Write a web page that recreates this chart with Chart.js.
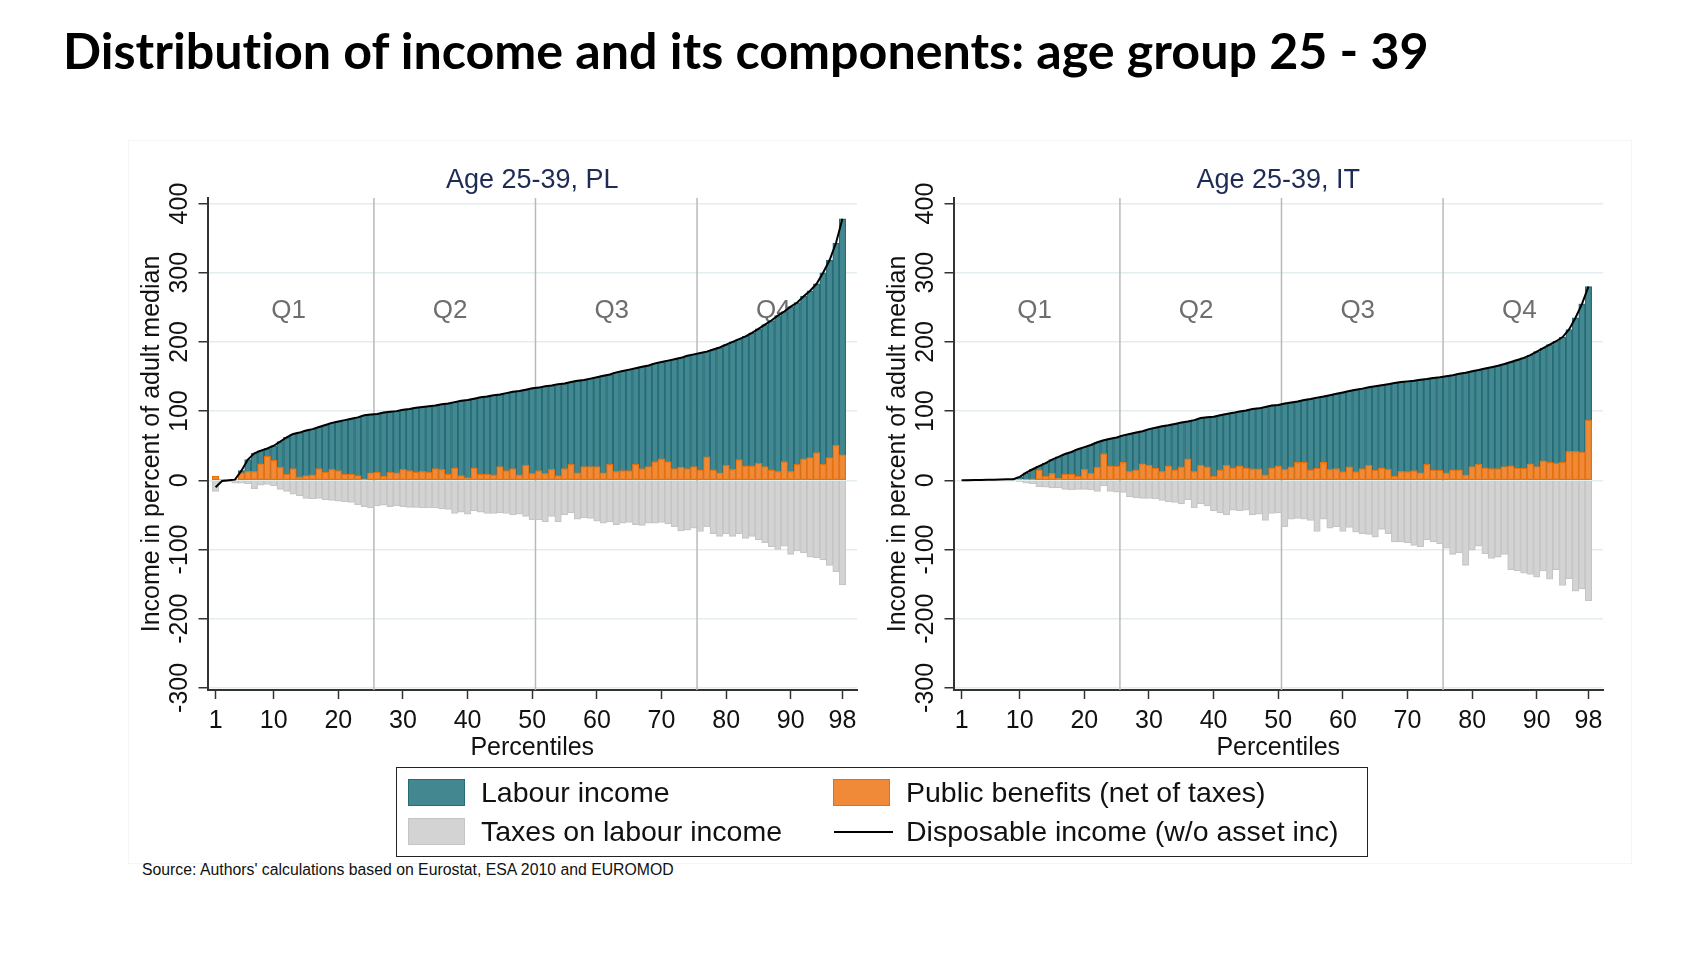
<!DOCTYPE html>
<html>
<head>
<meta charset="utf-8">
<script src="https://cdn.jsdelivr.net/npm/chart.js@4.4.1/dist/chart.umd.min.js"></script>
<style>
  body { margin:0; background:#fff; width:1707px; height:960px; position:relative; overflow:hidden;
         font-family:"Liberation Sans", Arial, sans-serif; color:#111; }
  #title { position:absolute; left:63px; top:30px; font-family:Lato, sans-serif; font-weight:700;
           font-size:40px; line-height:1.2; white-space:nowrap; color:#000;
           font-variant-ligatures:none; font-feature-settings:"liga" 0, "clig" 0; }
  #frame { position:absolute; left:128px; top:140px; width:1502px; height:722px; border:1px solid #f4f6f6; }
  canvas { position:absolute; top:150px; }
  #pl { left:120px; }
  #it { left:866px; }
  #legend { position:absolute; left:396px; top:767px; width:970px; height:88px; border:1.5px solid #222; }
  .sw { position:absolute; width:57px; height:27px; box-sizing:border-box; border:1.5px solid; }
  .lt { position:absolute; font-size:28.5px; line-height:1.117; white-space:nowrap; }
  #source { position:absolute; left:142px; top:861px; font-size:15.8px; line-height:1.117; white-space:nowrap; }
</style>
</head>
<body>
<div id="title">Distribution of income and its components: age group 25 - 39</div>
<div id="frame"></div>
<canvas id="pl" width="760" height="620"></canvas>
<canvas id="it" width="760" height="620"></canvas>
<div id="legend"></div>
<div id="source">Source: Authors' calculations based on Eurostat, ESA 2010 and EUROMOD</div>
<script>
// percentiles 1..98
const pct = Array.from({length: 98}, (_, i) => i + 1);
const xTickVals = [1, 10, 20, 30, 40, 50, 60, 70, 80, 90, 98];
const yTickVals = [-300, -200, -100, 0, 100, 200, 300, 400];
const quartileLines = [25.5, 50.5, 75.5];
const quartileNames = ['Q1', 'Q2', 'Q3', 'Q4'];
const quartileAt = [12.3, 37.3, 62.3, 87.3];
const quartileY = 248;

// Poland
const plDisposable = [
  -10, -1, 0, 1, 14, 30, 39, 43, 46, 50,
  56, 62, 67, 69, 72, 74, 77, 80, 83, 85,
  87, 89, 91, 94, 95, 96, 98, 99, 100, 102,
  103, 105, 106, 107, 108, 110, 111, 113, 115, 116,
  118, 120, 121, 123, 124, 126, 128, 129, 131, 133,
  134, 136, 137, 139, 140, 142, 144, 145, 147, 149,
  151, 153, 156, 158, 160, 162, 164, 166, 169, 171,
  173, 175, 177, 180, 182, 184, 186, 189, 192, 196,
  200, 204, 208, 213, 219, 225, 231, 238, 244, 251,
  257, 266, 274, 284, 300, 318, 343, 378
];
const plBenefits = [
  6, 1, 0, 0, 11, 13, 13, 24, 35, 29,
  19, 9, 17, 5, 7, 8, 17, 12, 16, 14,
  9, 9, 7, 2, 11, 12, 6, 12, 11, 16,
  14, 12, 13, 12, 17, 16, 9, 18, 7, 4,
  18, 9, 9, 8, 20, 14, 17, 8, 22, 10,
  14, 10, 16, 7, 17, 23, 11, 20, 20, 20,
  11, 23, 13, 14, 14, 23, 17, 20, 27, 31,
  27, 17, 19, 17, 20, 15, 34, 15, 11, 22,
  16, 30, 21, 21, 25, 20, 15, 13, 27, 13,
  23, 31, 33, 40, 23, 33, 51, 37
];
const plTaxes = [
  -16, -2, -2, -4, -4, -5, -12, -7, -6, -8,
  -13, -16, -20, -22, -26, -27, -26, -28, -29, -30,
  -31, -32, -35, -38, -40, -37, -36, -38, -37, -38,
  -39, -39, -40, -40, -40, -41, -42, -48, -46, -49,
  -44, -46, -48, -48, -47, -48, -50, -49, -52, -57,
  -57, -60, -52, -60, -50, -47, -56, -54, -55, -59,
  -62, -60, -64, -62, -61, -64, -65, -62, -62, -61,
  -63, -67, -73, -72, -69, -74, -67, -77, -81, -77,
  -81, -77, -84, -81, -86, -90, -96, -100, -95, -107,
  -102, -105, -111, -112, -115, -123, -132, -151
];

// Italy
const itDisposable = [
  0, 0.2, 0.4, 0.6, 0.8, 1, 1.2, 1.4, 1.6, 5,
  11, 16, 20.5, 25, 30, 34, 38, 41, 45, 48,
  51, 55, 58, 60, 62, 65, 67, 69, 71, 74,
  76, 78, 79.5, 81.5, 83.5, 85, 87, 90, 91, 92,
  94, 96, 97.5, 99.5, 101, 103, 104, 106, 108, 109,
  111, 112.5, 114, 116, 117.5, 119.5, 121, 123, 125, 127,
  129, 131, 132.5, 134.5, 136, 137.5, 139, 140.5, 142, 143,
  144, 145.5, 146.5, 148, 149, 150.5, 152, 154, 155.5, 157.5,
  159.5, 161.5, 163.5, 165.5, 168, 171, 174, 177, 181, 186,
  191, 196, 201, 207, 218, 235, 255, 280
];
const itBenefits = [
  0, 0, 0, 0, 0, 0, 0, 0, 0, 0,
  1, 2, 15, 6, 10, 3, 9, 9, 6, 16,
  10, 19, 38.5, 21, 20.5, 26, 13, 15, 24, 22,
  17.5, 13, 21, 15, 19.5, 31, 13, 22, 19.5, 6,
  15, 22, 18, 21, 18, 16.5, 16.5, 8, 18, 21,
  16, 19.5, 26, 26, 15, 17.5, 26, 16, 17, 12.7,
  19.5, 12.7, 17, 22, 14.6, 18, 16, 6, 13, 12.7,
  14, 11, 23, 14.6, 14.6, 11, 15, 15, 8, 20,
  23, 18, 17, 17, 20, 21, 17.5, 17.5, 24, 20,
  28, 26, 25, 26, 42, 42, 41, 87
];
const itTaxes = [
  0, 0, 0, 0, 0, 0, 0, 0, -1, -2,
  -4, -5, -9, -10, -11, -11, -13, -14, -13, -13,
  -14, -16, -8, -16, -17, -17.5, -24, -25, -26, -26,
  -27, -29, -31, -32, -34, -28, -40, -34, -37, -44,
  -47, -50, -43, -44, -43, -50, -49, -58, -48, -47,
  -67, -56, -55, -56, -58, -74, -56, -69, -67, -74,
  -68, -75, -77, -78, -82, -71, -77, -89, -89, -90,
  -94, -96, -86, -89, -92, -98, -107, -105, -123, -101,
  -95, -106, -113, -111, -107, -129, -131, -134, -136, -140,
  -131, -143, -129, -152, -142, -160, -157, -174
];

const FONT = '"Liberation Sans", Arial, sans-serif';
const colLabour = {fill: '#438890', edge: '#246d77'};
const colBenefit = {fill: '#f08a38', edge: '#e4710e'};
const colTax = {fill: '#d3d3d3', edge: '#c5c5c5'};

// text around each panel, and the quartile lines/labels behind the bars
const decor = {
  id: 'decor',
  beforeDatasetsDraw(chart) {
    const {ctx, chartArea: a, scales: {x, y}} = chart;
    ctx.save();
    ctx.strokeStyle = '#b9b9b9';
    ctx.lineWidth = 1.5;
    quartileLines.forEach(v => {
      const px = x.getPixelForValue(v);
      ctx.beginPath();
      ctx.moveTo(px, a.top);
      ctx.lineTo(px, a.bottom);
      ctx.stroke();
    });
    ctx.fillStyle = '#6e6e6e';
    ctx.font = '26px ' + FONT;
    ctx.textAlign = 'center';
    quartileNames.forEach((q, i) => {
      ctx.fillText(q, x.getPixelForValue(quartileAt[i]), y.getPixelForValue(quartileY) + 9.3);
    });
    ctx.restore();
  },
  afterDraw(chart, args, opts) {
    const {ctx, chartArea: a, scales: {y}} = chart;
    ctx.save();
    ctx.textAlign = 'center';
    ctx.fillStyle = '#1e2c55';
    ctx.font = '27px ' + FONT;
    ctx.fillText(opts.title, (a.left + a.right) / 2, a.top - 10);

    ctx.fillStyle = '#111';
    ctx.font = '25px ' + FONT;
    yTickVals.forEach(v => {
      ctx.save();
      ctx.translate(a.left - 21, y.getPixelForValue(v));
      ctx.rotate(-Math.PI / 2);
      ctx.fillText(String(v), 0, 0);
      ctx.restore();
    });
    ctx.save();
    ctx.translate(a.left - 48.5, (a.top + a.bottom) / 2);
    ctx.rotate(-Math.PI / 2);
    ctx.fillText('Income in percent of adult median', 0, 0);
    ctx.restore();

    ctx.fillText('Percentiles', (a.left + a.right) / 2, a.bottom + 65);
    ctx.restore();
  }
};

function drawPanel(id, title, disposable, benefits, taxes) {
  new Chart(document.getElementById(id), {
    type: 'bar',
    data: {
      labels: pct,
      datasets: [
        {type: 'line', label: 'Disposable income (w/o asset inc)', data: disposable,
         borderColor: '#000', borderWidth: 2, pointRadius: 0, tension: 0, order: 0},
        {label: 'Public benefits (net of taxes)', data: benefits,
         backgroundColor: colBenefit.fill, borderColor: colBenefit.edge, borderWidth: 1.2,
         borderSkipped: false, grouped: false, order: 1},
        {label: 'Labour income', data: disposable.map(v => Math.max(v, 0)),
         backgroundColor: colLabour.fill, borderColor: colLabour.edge, borderWidth: 1.3,
         grouped: false, order: 2},
        {label: 'Taxes on labour income', data: taxes,
         backgroundColor: colTax.fill, borderColor: colTax.edge, borderWidth: 1.2,
         grouped: false, order: 3}
      ]
    },
    options: {
      responsive: false,
      animation: false,
      layout: {padding: {left: 0, top: 48, right: 23, bottom: 0}},
      datasets: {bar: {barPercentage: 1, categoryPercentage: 1}},
      plugins: {legend: {display: false}, tooltip: {enabled: false}, decor: {title: title}},
      scales: {
        x: {
          type: 'linear', min: -0.25, max: 100.25, offset: false,
          afterBuildTicks: s => { s.ticks = xTickVals.map(v => ({value: v})); },
          afterFit: s => { s.height = 80; },
          grid: {offset: false, drawOnChartArea: false, drawTicks: true, tickLength: 9, tickColor: '#333', tickWidth: 1.5},
          border: {color: '#333', width: 2},
          ticks: {font: {family: FONT, size: 25}, color: '#111', padding: 7, maxRotation: 0, autoSkip: false}
        },
        y: {
          min: -303, max: 408,
          afterBuildTicks: s => { s.ticks = yTickVals.map(v => ({value: v})); },
          afterFit: s => { s.width = 87.5; },
          grid: {color: '#e3edf0', lineWidth: 1.5, tickColor: '#333', tickWidth: 1.5, tickLength: 9},
          border: {color: '#333', width: 2},
          ticks: {display: false}
        }
      }
    },
    plugins: [decor]
  });
}

drawPanel('pl', 'Age 25-39, PL', plDisposable, plBenefits, plTaxes);
drawPanel('it', 'Age 25-39, IT', itDisposable, itBenefits, itTaxes);

// legend
const legend = document.getElementById('legend');
const legendItems = [
  {name: 'Labour income', col: colLabour, x: 11, row: 0},
  {name: 'Taxes on labour income', col: colTax, x: 11, row: 1},
  {name: 'Public benefits (net of taxes)', col: colBenefit, x: 436, row: 0},
  {name: 'Disposable income (w/o asset inc)', line: true, x: 436, row: 1}
];
legendItems.forEach(it => {
  const top = it.row === 0 ? 11 : 50;
  if (it.line) {
    const l = document.createElement('div');
    l.style.cssText = `position:absolute;left:${it.x + 1}px;top:${top + 13}px;width:59px;height:2px;background:#000`;
    legend.appendChild(l);
  } else {
    const s = document.createElement('div');
    s.className = 'sw';
    s.style.cssText = `left:${it.x}px;top:${top}px;background:${it.col.fill};border-color:${it.col.edge}`;
    legend.appendChild(s);
  }
  const t = document.createElement('div');
  t.className = 'lt';
  t.textContent = it.name;
  t.style.left = (it.x + 73) + 'px';
  t.style.top = (top - 2.5) + 'px';
  legend.appendChild(t);
});

// fit the headline to the width it takes in the original
const title = document.getElementById('title');
const w = title.getBoundingClientRect().width;
const size = 40 * 1366 / w;
title.style.fontSize = size + 'px';
title.style.top = (70 - 0.987 * size) + 'px';
</script>
</body>
</html>
